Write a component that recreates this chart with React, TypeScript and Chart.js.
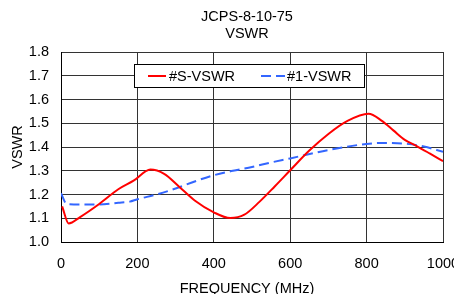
import React, { useEffect, useRef } from "react";
import { Chart, registerables } from "chart.js";

Chart.register(...registerables);

const titleLines = ["JCPS-8-10-75", "VSWR"];
const xTitle = "FREQUENCY (MHz)";
const yTitle = "VSWR";

const sName = "#S-VSWR";
const sFreq = [3, 20, 50, 100, 150, 190, 234, 270, 310, 350, 400, 443, 480, 520, 560, 600, 650, 700, 750, 805, 840, 870, 900, 930, 965, 1000];
const sVswr = [1.15, 1.078, 1.105, 1.16, 1.222, 1.258, 1.305, 1.287, 1.232, 1.175, 1.125, 1.101, 1.115, 1.17, 1.235, 1.302, 1.385, 1.455, 1.51, 1.54, 1.51, 1.47, 1.43, 1.405, 1.373, 1.34];

const oneName = "#1-VSWR";
const oneFreq = [0, 15, 50, 100, 150, 180, 200, 250, 300, 350, 400, 450, 500, 550, 600, 700, 800, 845, 900, 950, 1000];
const oneVswr = [1.205, 1.16, 1.158, 1.158, 1.165, 1.17, 1.18, 1.2, 1.225, 1.255, 1.281, 1.3, 1.316, 1.335, 1.352, 1.387, 1.413, 1.417, 1.414, 1.402, 1.38];

const FONT = "Arial, 'Liberation Sans', sans-serif";
const FS = 14.5;

const textPlugin = {
  id: "texts",
  afterDraw(chart: any) {
    const ctx = chart.ctx;
    ctx.save();
    ctx.fillStyle = "#000";
    ctx.font = `${FS}px ${FONT}`;
    ctx.textAlign = "center";
    ctx.textBaseline = "middle";
    ctx.fillText(titleLines[0], 247, 17);
    ctx.fillText(titleLines[1], 247, 34);
    ctx.fillText(xTitle, 247, 289);
    ctx.save();
    ctx.translate(18, 147);
    ctx.rotate(-Math.PI / 2);
    ctx.fillText(yTitle, 0, 0);
    ctx.restore();

    // legend
    const lx = 134, ly = 64, lw = 230, lh = 23;
    ctx.fillStyle = "#fff";
    ctx.fillRect(lx, ly, lw, lh);
    ctx.strokeStyle = "#000";
    ctx.lineWidth = 1;
    ctx.strokeRect(lx + 0.5, ly + 0.5, lw, lh);
    const ds = chart.data.datasets;
    const cy = 76;
    const items = [
      { x1: 148, x2: 166, tx: 169, d: ds[0] },
      { x1: 261, x2: 285, tx: 287, d: ds[1] },
    ];
    for (const it of items) {
      ctx.strokeStyle = it.d.borderColor;
      ctx.lineWidth = 2;
      ctx.setLineDash(it.d.borderDash || []);
      ctx.beginPath();
      ctx.moveTo(it.x1, cy);
      ctx.lineTo(it.x2, cy);
      ctx.stroke();
      ctx.setLineDash([]);
      ctx.fillStyle = "#000";
      ctx.textAlign = "left";
      ctx.fillText(it.d.label, it.tx, cy + 0.5);
    }
    ctx.restore();
  },
};

export default function App() {
  const ref = useRef<HTMLCanvasElement>(null);
  useEffect(() => {
    if (!ref.current) return;
    const chart = new Chart(ref.current, {
      type: "line",
      data: {
        datasets: [
          {
            label: sName,
            data: sFreq.map((f, i) => ({ x: f, y: sVswr[i] })),
            borderColor: "#ff0000",
            borderWidth: 2,
            pointRadius: 0,
            cubicInterpolationMode: "monotone",
            fill: false,
          },
          {
            label: oneName,
            data: oneFreq.map((f, i) => ({ x: f, y: oneVswr[i] })),
            borderColor: "#3366ff",
            borderWidth: 2,
            borderDash: [10, 5],
            pointRadius: 0,
            cubicInterpolationMode: "monotone",
            fill: false,
          },
        ],
      },
      options: {
        responsive: false,
        animation: false,
        devicePixelRatio: 1,
        layout: { padding: { top: 52, left: 0, right: 11, bottom: 0 } },
        plugins: {
          legend: { display: false },
          title: { display: false },
          tooltip: { enabled: false },
        },
        scales: {
          x: {
            type: "linear",
            min: 0,
            max: 1000,
            ticks: {
              stepSize: 200,
              color: "#000",
              font: { family: FONT, size: FS },
              padding: 13,
              maxRotation: 0,
              callback: (v: any) => String(v),
            },
            grid: { color: "#333", drawTicks: false, lineWidth: 1 },
            border: { color: "#000", width: 1 },
            afterFit(scale: any) {
              scale.height = 52;
              scale.paddingLeft = 0;
              scale.paddingRight = 0;
            },
          },
          y: {
            min: 1.0,
            max: 1.8,
            ticks: {
              stepSize: 0.1,
              color: "#000",
              font: { family: FONT, size: FS },
              padding: 12,
              callback: (v: any) => Number(v).toFixed(1),
            },
            grid: { color: "#333", drawTicks: false, lineWidth: 1 },
            border: { color: "#000", width: 1 },
            afterFit(scale: any) {
              scale.width = 61;
              scale.paddingTop = 0;
              scale.paddingBottom = 0;
            },
          },
        },
      },
      plugins: [textPlugin],
    } as any);
    return () => chart.destroy();
  }, []);
  return (
    <div style={{ position: "absolute", left: 0, top: 0, width: 454, height: 294, background: "#fff" }}>
      <canvas ref={ref} width={454} height={294} />
    </div>
  );
}
